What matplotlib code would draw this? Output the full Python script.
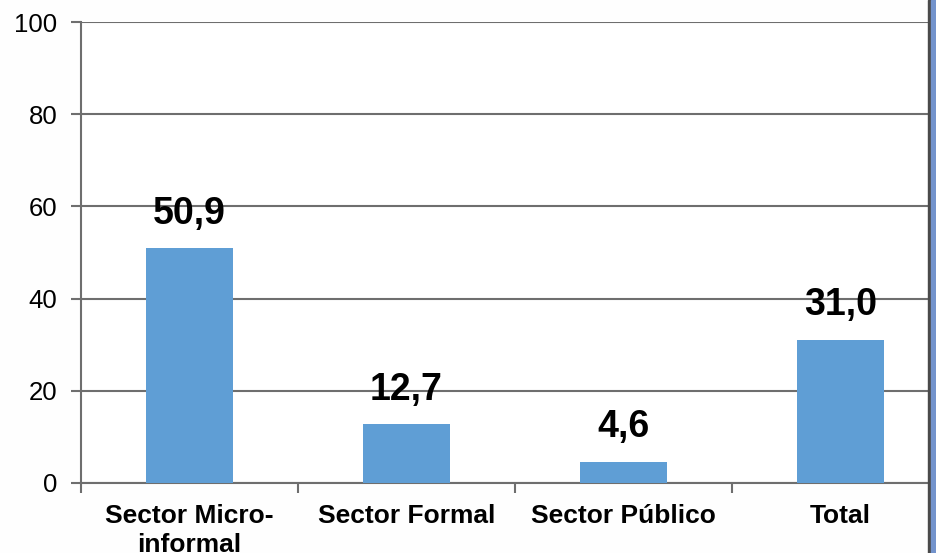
import numpy as np
import matplotlib.pyplot as plt
from matplotlib.patches import Rectangle

categories = ["Sector Micro-\ninformal", "Sector Formal", "Sector Público", "Total"]
values = [50.9, 12.7, 4.6, 31.0]
labels = ["50,9", "12,7", "4,6", "31,0"]
yticks = [0, 20, 40, 60, 80, 100]

plt.rcParams['font.family'] = ['Liberation Sans', 'DejaVu Sans']

fig = plt.figure(figsize=(9.36, 5.53), dpi=100)
# plot area runs past the right edge (screenshot is cropped)
ax = fig.add_axes([81 / 936, 70 / 553, 868 / 936, 461 / 553])

x = np.arange(len(categories))
ax.bar(x, values, width=0.4, color="#5F9ED5", zorder=3)

for xi, v, lab in zip(x, values, labels):
    ax.annotate(lab, (xi, v), xytext=(0, 12), textcoords="offset points",
                ha="center", va="bottom", fontsize=27, fontweight="bold")

ax.set_xlim(-0.5, len(categories) - 0.5)
ax.set_ylim(0, 100)
ax.set_yticks(yticks)
ax.set_yticklabels([str(t) for t in yticks], fontsize=18.5)
ax.yaxis.grid(True, color="#6e6e6e", linewidth=1.5, zorder=0)

# category ticks sit between the bars
ax.set_xticks(np.arange(-0.5, len(categories), 1.0))
ax.set_xticklabels([])
ax.set_xticks(x, minor=True)
ax.set_xticklabels(categories, minor=True, fontsize=19, fontweight="bold",
                   linespacing=1.25)
ax.tick_params(axis="x", which="minor", length=0, pad=15)
ax.tick_params(axis="x", which="major", length=7, width=1.5, color="#6e6e6e")
ax.tick_params(axis="y", length=7, width=1.5, color="#6e6e6e", pad=10)

for s in ["top", "right"]:
    ax.spines[s].set_visible(False)
for s in ["left", "bottom"]:
    ax.spines[s].set_color("#6e6e6e")
    ax.spines[s].set_linewidth(1.5)

# window border on the right edge
fig.patches.append(Rectangle((928 / 936, 0), 2.5 / 936, 1, transform=fig.transFigure,
                             color="#4a4a4a", zorder=10))
fig.patches.append(Rectangle((930.5 / 936, 0), 6 / 936, 1, transform=fig.transFigure,
                             color="#7393cc", zorder=10))
fig.patches.append(Rectangle((0, 0), 928 / 936, 1, transform=fig.transFigure,
                             color="#fefefe", zorder=-10))

fig.savefig("out.png", dpi=100)
